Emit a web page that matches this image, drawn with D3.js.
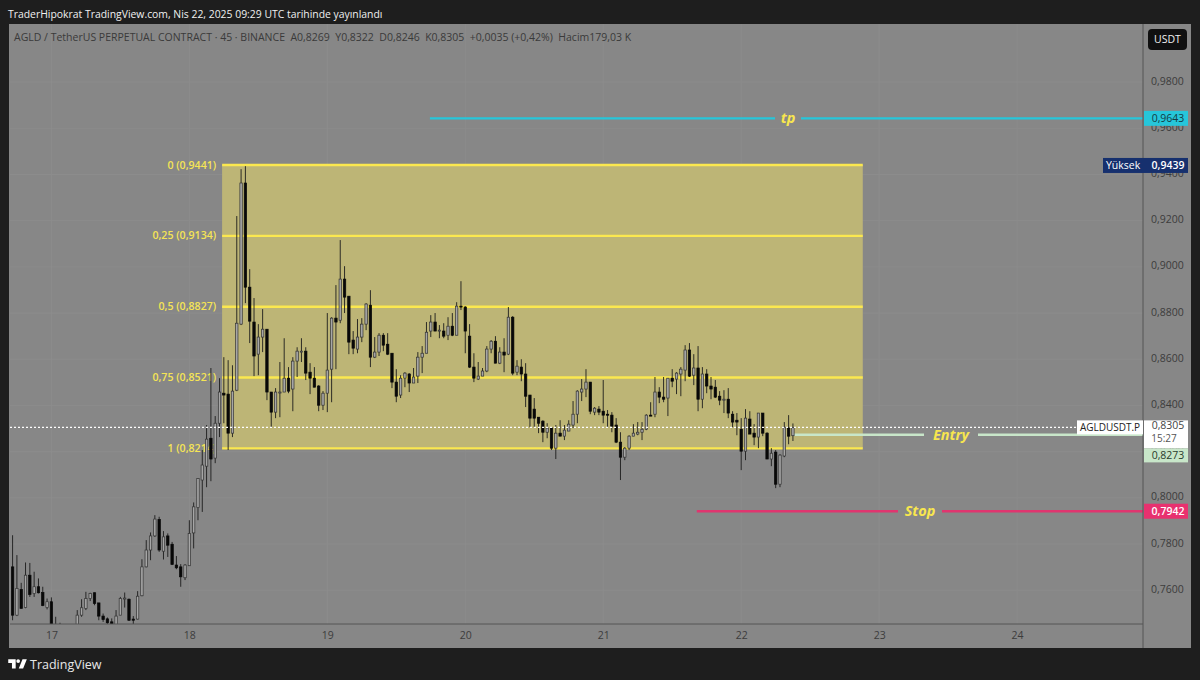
<!DOCTYPE html>
<html>
<head>
<meta charset="utf-8">
<script src="https://cdn.jsdelivr.net/npm/d3@7"></script>
<style>
  html, body { margin: 0; background: #1e1e1e; }
  text { font-family: "Open Sans", sans-serif; white-space: pre; }
</style>
</head>
<body>
<div id="chart"></div>
<script>
// 45 minute candles
var opens = [.7701,.7492,.7603,.7525,.7665,.7586,.7615,.7590,.7525,.7550,.7440,.7430,.7400,.7420,.7410,.7440,.7492,.7521,.7564,.7589,.7545,.7488,.7476,.7463,.7445,.7492,.7563,.7561,.7475,.7475,.7576,.7701,.7774,.7835,.7906,.7769,.7835,.7799,.7709,.7701,.7654,.7706,.7848,.7958,.8077,.8137,.8258,.8172,.8323,.8453,.8449,.8280,.8466,.8752,.9363,.8912,.8761,.8622,.8696,.8730,.8458,.8371,.8456,.8458,.8518,.8471,.8592,.8633,.8635,.8544,.8518,.8484,.8401,.8453,.8557,.8778,.8769,.8947,.8873,.8683,.8644,.8696,.8752,.8834,.8609,.8631,.8704,.8665,.8626,.8501,.8445,.8518,.8536,.8497,.8527,.8609,.8626,.8722,.8761,.8726,.8722,.8704,.8743,.8704,.8830,.8826,.8700,.8566,.8514,.8527,.8549,.8644,.8678,.8583,.8631,.8622,.8782,.8544,.8566,.8536,.8445,.8384,.8349,.8332,.8284,.8302,.8215,.8280,.8267,.8289,.8315,.8362,.8458,.8471,.8501,.8371,.8384,.8375,.8362,.8358,.8315,.8241,.8176,.8215,.8267,.8276,.8284,.8297,.8358,.8362,.8458,.8436,.8432,.8518,.8514,.8536,.8553,.8640,.8531,.8562,.8427,.8536,.8484,.8479,.8440,.8423,.8427,.8362,.8336,.8297,.8202,.8341,.8280,.8263,.8367,.8280,.8168,.8198,.8059,.8181,.8302,.8269];
var highs = [.7838,.7752,.7632,.7720,.7718,.7680,.7651,.7615,.7564,.7569,.7485,.7459,.7440,.7445,.7448,.7514,.7561,.7593,.7589,.7590,.7545,.7499,.7482,.7478,.7514,.7571,.7590,.7564,.7488,.7596,.7734,.7817,.7850,.7925,.7918,.7856,.7846,.7809,.7748,.7713,.7713,.7903,.7980,.8084,.8207,.8315,.8562,.8354,.8518,.8609,.8596,.8574,.9220,.9423,.9436,.8990,.8865,.8752,.8817,.8730,.8458,.8475,.8588,.8691,.8566,.8609,.8652,.8691,.8652,.8583,.8566,.8488,.8462,.8800,.8782,.8921,.9116,.9003,.8873,.8722,.8774,.8778,.8843,.8899,.8696,.8713,.8713,.8713,.8626,.8557,.8531,.8544,.8540,.8562,.8631,.8657,.8761,.8791,.8800,.8748,.8756,.8782,.8800,.8847,.8938,.8830,.8752,.8626,.8588,.8562,.8657,.8683,.8700,.8652,.8691,.8826,.8787,.8596,.8600,.8583,.8445,.8432,.8349,.8336,.8323,.8306,.8315,.8336,.8315,.8336,.8419,.8466,.8514,.8557,.8501,.8393,.8397,.8510,.8380,.8371,.8345,.8284,.8220,.8271,.8319,.8328,.8328,.8362,.8414,.8523,.8479,.8523,.8518,.8557,.8544,.8566,.8661,.8670,.8622,.8657,.8566,.8557,.8523,.8510,.8462,.8466,.8475,.8375,.8367,.8345,.8384,.8375,.8319,.8367,.8367,.8284,.8215,.8207,.8189,.8328,.8358,.8322];
var lows = [.7470,.7488,.7522,.7522,.7571,.7571,.7586,.7531,.7517,.7400,.7390,.7380,.7380,.7400,.7400,.7420,.7485,.7514,.7553,.7535,.7470,.7463,.7440,.7430,.7430,.7492,.7525,.7467,.7445,.7473,.7574,.7699,.7730,.7831,.7766,.7733,.7744,.7709,.7691,.7615,.7644,.7706,.7781,.7903,.7939,.8046,.8072,.8150,.8263,.8323,.8207,.8263,.8462,.8748,.8843,.8670,.8527,.8531,.8631,.8423,.8306,.8345,.8349,.8458,.8453,.8375,.8523,.8588,.8510,.8449,.8479,.8375,.8380,.8371,.8414,.8557,.8756,.8800,.8622,.8622,.8626,.8674,.8726,.8566,.8605,.8614,.8635,.8618,.8475,.8414,.8432,.8479,.8458,.8497,.8497,.8540,.8626,.8696,.8722,.8691,.8691,.8683,.8700,.8704,.8813,.8626,.8562,.8501,.8510,.8527,.8544,.8626,.8583,.8579,.8544,.8618,.8531,.8531,.8505,.8393,.8306,.8306,.8280,.8241,.8258,.8207,.8168,.8267,.8250,.8289,.8302,.8323,.8419,.8436,.8362,.8358,.8358,.8323,.8306,.8284,.8237,.8077,.8163,.8207,.8267,.8271,.8250,.8293,.8354,.8349,.8410,.8414,.8354,.8479,.8449,.8440,.8505,.8523,.8488,.8375,.8388,.8453,.8427,.8432,.8401,.8367,.8345,.8306,.8271,.8120,.8163,.8276,.8228,.8215,.8267,.8168,.8137,.8042,.8046,.8176,.8232,.8246];
var closes = [.7492,.7608,.7521,.7665,.7582,.7615,.7589,.7534,.7550,.7430,.7420,.7400,.7420,.7430,.7435,.7492,.7524,.7564,.7586,.7543,.7488,.7473,.7459,.7445,.7488,.7564,.7566,.7470,.7470,.7574,.7701,.7774,.7835,.7908,.7774,.7831,.7795,.7712,.7697,.7658,.7709,.7846,.7961,.8084,.8142,.8254,.8168,.8323,.8458,.8445,.8280,.8462,.8756,.9363,.8912,.8765,.8614,.8696,.8730,.8458,.8371,.8458,.8458,.8518,.8462,.8592,.8635,.8635,.8540,.8518,.8479,.8401,.8453,.8553,.8778,.8761,.8947,.8869,.8674,.8648,.8696,.8752,.8839,.8609,.8631,.8704,.8661,.8622,.8501,.8440,.8518,.8540,.8497,.8523,.8609,.8626,.8717,.8761,.8722,.8726,.8700,.8743,.8704,.8830,.8828,.8722,.8566,.8518,.8527,.8549,.8644,.8678,.8583,.8631,.8618,.8782,.8540,.8570,.8536,.8440,.8345,.8345,.8323,.8284,.8302,.8215,.8280,.8267,.8293,.8319,.8362,.8462,.8471,.8501,.8375,.8388,.8371,.8358,.8358,.8310,.8241,.8176,.8215,.8267,.8280,.8284,.8297,.8358,.8354,.8458,.8436,.8427,.8518,.8505,.8540,.8557,.8640,.8527,.8562,.8427,.8536,.8484,.8471,.8436,.8423,.8427,.8367,.8328,.8328,.8202,.8345,.8276,.8263,.8367,.8280,.8168,.8193,.8059,.8185,.8306,.8267,.8305];

var fibLevels = ["0", "0,25", "0,5", "0,75", "1"];
var fibPrices = [.9441, .9134, .8827, .8521, .8214];
var priceTicks = [.76, .78, .80, .82, .84, .86, .88, .90, .92, .94, .96, .98];
var dayLabels = ["17", "18", "19", "20", "21", "22", "23", "24"];
var dayBars = [9, 41, 73, 105, 137, 169, 201, 233];

var tpPrice = .9643, entryPrice = .8273, stopPrice = .7942, highPrice = .9439, lastPrice = .8305;
var fibStartBar = 48.6, fibEndBar = 197.2, tpStartBar = 96.8, stopStartBar = 158.7, lastBar = 181;

var width = 1200, height = 680;
var plotLeft = 10, plotRight = 1143, plotTop = 24, plotBottom = 624, panelRight = 1191, panelBottom = 648;

var x = d3.scaleLinear().domain([-0.6, 262.2]).range([plotLeft, plotRight]);
var y = d3.scaleLinear().domain([.9441, .8214]).range([165, 448.4]);
var comma = function(v) { return d3.format(".4f")(v).replace(".", ","); };

var svg = d3.select("#chart").append("svg")
  .attr("width", width).attr("height", height)
  .style("display", "block")
  .style("background", "#1e1e1e");

svg.append("text").attr("x", 8).attr("y", 18).attr("fill", "#f0f0f0")
  .style("font-size", "10.4px")
  .text("TraderHipokrat TradingView.com, Nis 22, 2025 09:29 UTC tarihinde yayınlandı");

svg.append("rect").attr("x", plotLeft - 1).attr("y", plotTop).attr("width", panelRight - plotLeft + 1)
  .attr("height", panelBottom - plotTop).attr("fill", "#878787");

svg.append("defs").append("clipPath").attr("id", "plot").append("rect")
  .attr("x", plotLeft).attr("y", plotTop).attr("width", plotRight - plotLeft).attr("height", plotBottom - plotTop);

var plot = svg.append("g").attr("clip-path", "url(#plot)");

// faint grid
plot.selectAll(".hgrid").data(priceTicks).enter().append("line")
  .attr("x1", plotLeft).attr("x2", plotRight)
  .attr("y1", function(d) { return y(d); }).attr("y2", function(d) { return y(d); })
  .attr("stroke", "#8c8c8c").attr("stroke-width", 1);
plot.selectAll(".vgrid").data(dayBars).enter().append("line")
  .attr("y1", plotTop).attr("y2", plotBottom)
  .attr("x1", function(d) { return x(d); }).attr("x2", function(d) { return x(d); })
  .attr("stroke", "#8c8c8c").attr("stroke-width", 1);

// fib box
plot.append("rect")
  .attr("x", x(fibStartBar)).attr("width", x(fibEndBar) - x(fibStartBar))
  .attr("y", y(fibPrices[0])).attr("height", y(fibPrices[4]) - y(fibPrices[0]))
  .attr("fill", "#bdb576");
plot.selectAll(".fib").data(fibPrices).enter().append("line")
  .attr("x1", x(fibStartBar)).attr("x2", x(fibEndBar))
  .attr("y1", function(d) { return y(d); }).attr("y2", function(d) { return y(d); })
  .attr("stroke", "#fbe84f").attr("stroke-width", 2.4);
plot.selectAll(".fibLabel").data(fibPrices).enter().append("text")
  .attr("x", x(fibStartBar) - 6)
  .attr("y", function(d) { return y(d) + 3.5; })
  .attr("text-anchor", "end").attr("fill", "#f5e455")
  .style("font-size", "10.6px").style("font-weight", 600)
  .text(function(d, i) { return fibLevels[i] + " (" + comma(d) + ")"; });

// horizontal levels with a gap for the label
function level(price, startBar, label, labelX, gap, color) {
  [[x(startBar), labelX - gap], [labelX + gap, plotRight]].forEach(function(s) {
    plot.append("line").attr("x1", s[0]).attr("x2", s[1])
      .attr("y1", y(price)).attr("y2", y(price))
      .attr("stroke", color).attr("stroke-width", 2.4);
  });
  plot.append("text").attr("x", labelX).attr("y", y(price) + 5)
    .attr("text-anchor", "middle").attr("fill", "#f8e64f")
    .style("font-size", "14.5px").style("font-weight", 700).style("font-style", "italic")
    .text(label);
}
level(tpPrice, tpStartBar, "tp", 788, 13, "#26c6da");
level(entryPrice, lastBar, "Entry", 951, 27, "#c8e6c9");
level(stopPrice, stopStartBar, "Stop", 920, 22, "#e0356f");

// candles
var bars = d3.range(opens.length);
plot.selectAll(".wick").data(bars).enter().append("line")
  .attr("x1", function(i) { return x(i); }).attr("x2", function(i) { return x(i); })
  .attr("y1", function(i) { return y(highs[i]); }).attr("y2", function(i) { return y(lows[i]); })
  .attr("stroke", "#1c1c1c").attr("stroke-width", 0.9);
plot.selectAll(".body").data(bars).enter().append("rect")
  .attr("x", function(i) { return x(i) - 1.2; }).attr("width", 2.4)
  .attr("y", function(i) { return y(Math.max(opens[i], closes[i])); })
  .attr("height", function(i) { return Math.max(1, Math.abs(y(opens[i]) - y(closes[i]))); })
  .attr("fill", function(i) { return closes[i] >= opens[i] ? "#a6a6a6" : "#080808"; })
  .attr("stroke", function(i) { return closes[i] >= opens[i] ? "#333333" : "#080808"; })
  .attr("stroke-width", 0.7);

// last price dots
plot.append("line").attr("x1", plotLeft).attr("x2", plotRight)
  .attr("y1", y(lastPrice)).attr("y2", y(lastPrice))
  .attr("stroke", "#ffffff").attr("stroke-width", 1.3).attr("stroke-dasharray", "2 2");

// axes
var yAxis = d3.axisRight(y).tickValues(priceTicks).tickSize(0).tickPadding(8).tickFormat(comma);
var xAxis = d3.axisBottom(x).tickValues(dayBars).tickSize(0).tickPadding(8)
  .tickFormat(function(d, i) { return dayLabels[i]; });

var gy = svg.append("g").attr("transform", "translate(" + plotRight + ",0)").call(yAxis);
gy.select(".domain").remove();
gy.selectAll(".tick text").attr("dy", "0.2em");
svg.append("line").attr("x1", plotRight).attr("x2", plotRight).attr("y1", plotTop).attr("y2", panelBottom).attr("stroke", "#555555");
var gx = svg.append("g").attr("transform", "translate(0," + plotBottom + ")").call(xAxis);
gx.select(".domain").remove();
svg.append("line").attr("x1", plotLeft).attr("x2", plotRight).attr("y1", plotBottom).attr("y2", plotBottom).attr("stroke", "#555555");
svg.selectAll(".tick text").attr("fill", "#3c3c3c").style("font-size", "10.5px").style("font-family", "'Open Sans', sans-serif");

// legend
svg.append("text").attr("x", 14).attr("y", 41).attr("fill", "#3a3a3a")
  .style("font-size", "10.5px")
  .text("AGLD / TetherUS PERPETUAL CONTRACT · 45 · BINANCE  A0,8269  Y0,8322  D0,8246  K0,8305  +0,0035 (+0,42%)  Hacim179,03 K");

// price tags
function tag(x0, x1, cy, h, fill, color, label, weight) {
  svg.append("rect").attr("x", x0).attr("y", cy - h / 2).attr("width", x1 - x0).attr("height", h).attr("fill", fill);
  svg.append("text").attr("x", x1 - 20).attr("y", cy + 3.8).attr("text-anchor", "middle")
    .attr("fill", color).style("font-size", "10.5px").style("font-weight", weight || 400).text(label);
}
tag(plotRight + 1, 1188, y(tpPrice), 15, "#26c6da", "#143c44", comma(tpPrice));
tag(1103, 1188, y(highPrice), 15, "#16306e", "#ffffff", comma(highPrice), 600);
svg.append("text").attr("x", 1106).attr("y", y(highPrice) + 3.8).attr("fill", "#ffffff").style("font-size", "10.5px").text("Yüksek");
tag(plotRight + 1, 1188, y(stopPrice), 15, "#e8316f", "#ffffff", comma(stopPrice), 600);

// last price block, symbol and countdown; entry tag is pushed below it
svg.append("rect").attr("x", 1077).attr("y", y(lastPrice) - 7).attr("width", 66).attr("height", 14).attr("fill", "#ffffff");
svg.append("text").attr("x", 1110).attr("y", y(lastPrice) + 4).attr("text-anchor", "middle").attr("fill", "#222222")
  .style("font-size", "10px").text("AGLDUSDT.P");
svg.append("rect").attr("x", plotRight + 1).attr("y", y(lastPrice) - 7).attr("width", 44).attr("height", 28).attr("fill", "#ffffff");
svg.append("text").attr("x", 1168).attr("y", y(lastPrice) + 2).attr("text-anchor", "middle").attr("fill", "#444444")
  .style("font-size", "10.5px").text(comma(lastPrice));
svg.append("text").attr("x", 1164).attr("y", y(lastPrice) + 15).attr("text-anchor", "middle").attr("fill", "#555555")
  .style("font-size", "10px").text("15:27");
tag(plotRight + 1, 1188, y(lastPrice) + 28, 14, "#c8e6c9", "#2a3c2c", comma(entryPrice));

// currency button
svg.append("rect").attr("x", 1148).attr("y", 29).attr("width", 39).attr("height", 21).attr("rx", 4).attr("fill", "#101010");
svg.append("text").attr("x", 1167.5).attr("y", 43).attr("text-anchor", "middle").attr("fill", "#f0f0f0")
  .style("font-size", "10.5px").text("USDT");

// footer logo
svg.append("path")
  .attr("d", "M14 6H2v6h6v9h6V6zm12 15h-7l6-15h7l-6 15zm-8-9a3 3 0 1 0 0-6 3 3 0 0 0 0 6z")
  .attr("transform", "translate(7,655.5) scale(0.62)").attr("fill", "#ffffff");
svg.append("text").attr("x", 30).attr("y", 669).attr("fill", "#e8e8e8")
  .style("font-size", "12.5px").text("TradingView");
</script>
</body>
</html>
